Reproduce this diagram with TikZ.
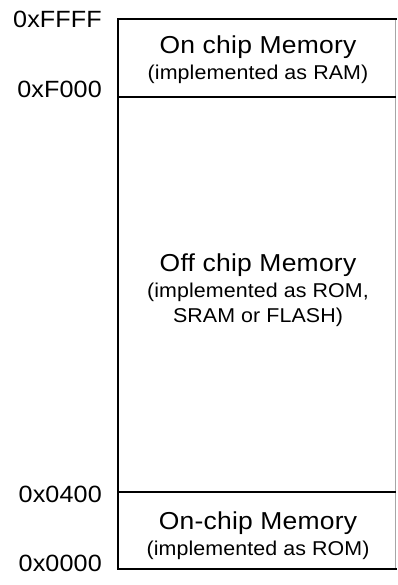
\documentclass[tikz,border=0pt]{standalone}
\usepackage{fontspec}
\setmainfont{Liberation Sans}
\newfontfamily\addrfont{Liberation Sans}[LetterSpace=0.5,FakeStretch=1.07]
\newfontfamily\ttlfont{Liberation Sans}[LetterSpace=1,FakeStretch=1.08]
\newfontfamily\subfont{Liberation Sans}[LetterSpace=0.5,FakeStretch=1.07]
\begin{document}
\begin{tikzpicture}[x=1pt,y=-1pt,
  addr/.style={anchor=base east, inner sep=0pt, font=\addrfont\fontsize{23.5}{27}\selectfont},
  ttl/.style={anchor=base, inner sep=0pt, font=\ttlfont\fontsize{24.5}{28}\selectfont},
  subt/.style={anchor=base, inner sep=0pt, font=\subfont\fontsize{20}{25}\selectfont},
  edge/.style={line width=2.2pt, black},
  rim/.style={line width=0.8pt, black!35}]
\useasboundingbox (0,0) rectangle (397,585);
% corners and divider ends
\coordinate (tl) at (118,19);
\coordinate (tr) at (396,19);
\coordinate (bl) at (118,569);
\coordinate (br) at (396,569);
\coordinate (d1l) at (118,97);
\coordinate (d1r) at (396,97);
\coordinate (d2l) at (118,492);
\coordinate (d2r) at (396,492);
\coordinate (rt) at (395.5,19);
\coordinate (rb) at (395.5,569);
% outline
\draw[rim] (rt) -- (rb);
\draw[edge, line cap=rect] (tr) -- (tl) -- (bl) -- (br);
\draw[edge] (d1l) -- (d1r);
\draw[edge] (d2l) -- (d2r);
% address labels
\node[addr] (aFFFF) at (102,28) {0xFFFF};
\node[addr] (aF000) at (102,98) {0xF000};
\node[addr] (a0400) at (102,502) {0x0400};
\node[addr] (a0000) at (102,571) {0x0000};
% region texts
\node[ttl] (t1) at (258,54) {On chip Memory};
\node[subt] (s1) at (258,80) {(implemented as RAM)};
\node[ttl] (t2) at (258,271) {Off chip Memory};
\node[subt] (s2a) at (258,297) {(implemented as ROM,};
\node[subt] (s2b) at (258,322) {SRAM or FLASH)};
\node[ttl] (t3) at (258,529) {On-chip Memory};
\node[subt] (s3) at (258,555) {(implemented as ROM)};
\end{tikzpicture}
\end{document}
